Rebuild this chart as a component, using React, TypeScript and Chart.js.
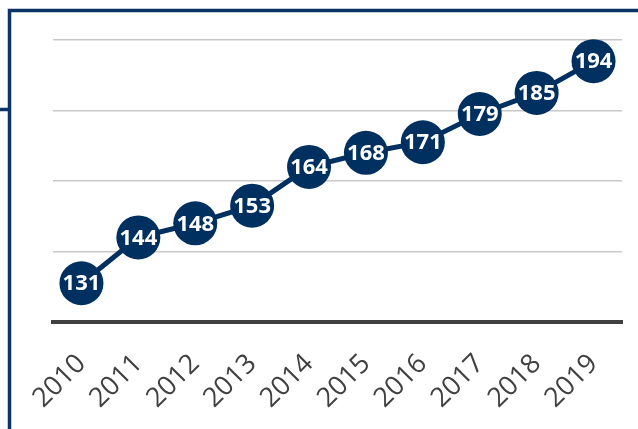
import React, { useEffect, useRef } from "react";
import { Chart, registerables } from "chart.js";

Chart.register(...registerables);

const categories = ["2010", "2011", "2012", "2013", "2014", "2015", "2016", "2017", "2018", "2019"];
const values = [131, 144, 148, 153, 164, 168, 171, 179, 185, 194];
const yMin = 120;
const yMax = 200;
const yStep = 20;

const NAVY = "#00305F";

const framePlugin = {
  id: "frame",
  afterDraw(chart: any) {
    const ctx = chart.ctx;
    ctx.save();
    ctx.strokeStyle = "#0A3566";
    ctx.lineWidth = 3.5;
    ctx.beginPath();
    ctx.moveTo(9.5, chart.height);
    ctx.lineTo(9.5, 10.5);
    ctx.lineTo(chart.width, 10.5);
    ctx.moveTo(0, 109.5);
    ctx.lineTo(9.5, 109.5);
    ctx.stroke();
    ctx.restore();
  },
};

const labelPlugin = {
  id: "pointLabels",
  afterDatasetsDraw(chart: any) {
    const ctx = chart.ctx;
    const meta = chart.getDatasetMeta(0);
    const data = chart.data.datasets[0].data;
    ctx.save();
    ctx.fillStyle = "#FFFFFF";
    ctx.font = "bold 22px 'Open Sans'";
    ctx.textAlign = "center";
    ctx.textBaseline = "middle";
    meta.data.forEach((pt: any, i: number) => {
      ctx.fillText(String(data[i]), pt.x, pt.y + 1);
    });
    ctx.restore();
  },
};

export default function App() {
  const ref = useRef<HTMLCanvasElement>(null);
  useEffect(() => {
    document.body.style.margin = "0";
    const chart = new Chart(ref.current!, {
      type: "line",
      data: {
        labels: categories,
        datasets: [
          {
            data: values,
            borderColor: NAVY,
            borderWidth: 5,
            backgroundColor: NAVY,
            pointBackgroundColor: NAVY,
            pointBorderWidth: 0,
            pointRadius: 22,
            pointHoverRadius: 22,
            clip: false as any,
            tension: 0,
          },
        ],
      },
      options: {
        animation: false,
        responsive: false,
        layout: { autoPadding: false, padding: { left: 53, right: 16, top: 40, bottom: 0 } },
        plugins: { legend: { display: false }, tooltip: { enabled: false } },
        scales: {
          x: {
            offset: true,
            grid: { display: false },
            border: { display: true, color: "#404040", width: 4 },
            ticks: {
              color: "#404040",
              font: { family: "'Open Sans'", size: 27 },
              maxRotation: 45,
              minRotation: 45,
              padding: 18,
            },
            afterFit: (s: any) => {
              s.height = 107;
              s.paddingLeft = 0;
              s.paddingRight = 0;
            },
          },
          y: {
            min: yMin,
            max: yMax,
            ticks: { display: false, stepSize: yStep },
            border: { display: false },
            grid: { color: "#C8C8C8", lineWidth: 1.5, drawTicks: false },
            afterFit: (s: any) => {
              s.width = 0;
            },
          },
        },
      },
      plugins: [framePlugin, labelPlugin],
    });
    return () => chart.destroy();
  }, []);
  return <canvas ref={ref} width={638} height={429} style={{ display: "block" }} />;
}
